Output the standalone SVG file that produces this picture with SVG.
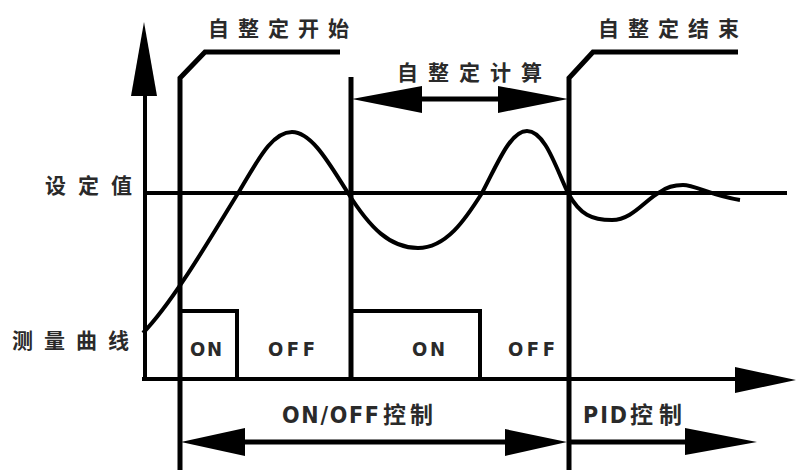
<svg xmlns="http://www.w3.org/2000/svg" width="798" height="470" viewBox="0 0 798 470">
<style>
.ln{stroke:#000;stroke-width:5;fill:none;stroke-linejoin:miter}
.th{stroke:#000;stroke-width:4;fill:none}
.ah{fill:#000;stroke:none}
.cjk{font-family:"Noto Sans CJK SC","Liberation Sans",sans-serif;font-size:21px;font-weight:bold;fill:#2a2a2a}
.lat{font-family:"DejaVu Sans Condensed","DejaVu Sans","Liberation Sans",sans-serif;font-size:20px;font-weight:bold;fill:#2a2a2a}
.big{font-size:23px}
</style>
<rect width="798" height="470" fill="#fff"/>
<g id="axes">
<line class="th" x1="145" y1="90" x2="145" y2="380"/>
<polygon class="ah" points="144,22 157,96 131,96"/>
<line class="th" x1="142" y1="379" x2="740" y2="379"/>
<polygon class="ah" points="796,380 735,367 735,393"/>
</g>
<g id="setpoint">
<line class="th" x1="145" y1="193" x2="787" y2="193"/>
<text class="cjk" x="45" y="193" letter-spacing="12">设定值</text>
</g>
<g id="curve">
<path class="th" d="M143,333 C175,300 215,230 240,190 C258,160 272,132 292,132 C312,132 330,165 348,193 C370,228 390,248 418,248 C446,248 465,220 482,193 C497,165 510,131 527,131 C545,131 556,168 568,193 C580,215 592,220 612,220 C632,220 645,200 660,192 C668,186 675,185 683,185 C695,185 712,196 740,200"/>
<text class="cjk" x="12" y="348" letter-spacing="11">测量曲线</text>
</g>
<g id="pulses">
<path class="th" d="M180,378 V311 H237 V378"/>
<path class="th" d="M351,311 H480 V378"/>
<text class="lat" x="190" y="356" textLength="32" lengthAdjust="spacing">ON</text>
<text class="lat" x="268" y="356" textLength="47" lengthAdjust="spacing">OFF</text>
<text class="lat" x="412" y="356" textLength="33" lengthAdjust="spacing">ON</text>
<text class="lat" x="508" y="356" textLength="47" lengthAdjust="spacing">OFF</text>
</g>
<g id="tune-start">
<path class="ln" d="M180,470 V78 L205,52 H340"/>
<text class="cjk" x="208" y="36" letter-spacing="9">自整定开始</text>
</g>
<g id="tune-end">
<path class="ln" d="M569,470 V78 L593,52 H738"/>
<text class="cjk" x="598" y="36" letter-spacing="9">自整定结束</text>
</g>
<g id="tune-calc">
<line class="ln" x1="351" y1="77" x2="351" y2="378"/>
<text class="cjk" x="397" y="80" letter-spacing="10">自整定计算</text>
</g>
<g id="connectors">
<line class="ln" x1="380" y1="99" x2="540" y2="99"/>
<polygon class="ah" points="352,99 422,86 422,113"/>
<polygon class="ah" points="568,99 498,86 498,113"/>
<line class="ln" x1="200" y1="442" x2="540" y2="442"/>
<polygon class="ah" points="181,442 245,428 245,456"/>
<polygon class="ah" points="567,442 505,429 505,456"/>
<line class="ln" x1="569" y1="442" x2="700" y2="442"/>
<polygon class="ah" points="757,442 685,428 685,455"/>
</g>
<g id="mode-labels">
<text class="lat big" x="282" y="423" textLength="97" lengthAdjust="spacing">ON/OFF</text>
<text class="cjk big" x="383" y="423" letter-spacing="4">控制</text>
<text class="lat big" x="583" y="423" textLength="44" lengthAdjust="spacing">PID</text>
<text class="cjk big" x="630" y="423" letter-spacing="6">控制</text>
</g>
</svg>
